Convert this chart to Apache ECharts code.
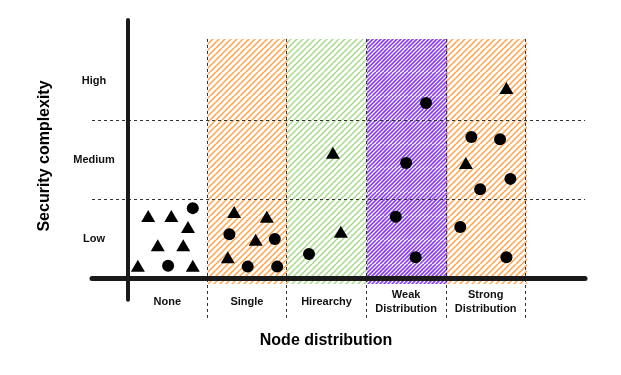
<!DOCTYPE html>
<html>
<head>
<meta charset="utf-8">
<script src="https://cdn.jsdelivr.net/npm/echarts@6/dist/echarts.min.js"></script>
<style>
  html, body { margin: 0; padding: 0; background: #fff; }
  #chart { width: 621px; height: 375px; }
</style>
</head>
<body>
<div id="chart"></div>
<script>
// categories
const nodeLabels = ['None', 'Single', 'Hirearchy', 'Weak\nDistribution', 'Strong\nDistribution']
const levelLabels = ['Low', 'Medium', 'High']

// hatched columns (column index) and which hatch they get
const shadedCols = [1, 2, 3, 4]
const shadeKinds = ['orange', 'green', 'purple', 'orange']

// points: [node position, complexity]
const circlePts = [
  [0.82, 0.89], [0.51, 0.16],
  [1.28, 0.56], [1.85, 0.50], [1.51, 0.15], [1.88, 0.15],
  [2.28, 0.31],
  [3.75, 2.22], [3.50, 1.46], [3.37, 0.78], [3.62, 0.27],
  [4.32, 1.79], [4.68, 1.76], [4.81, 1.26], [4.43, 1.13], [4.18, 0.65], [4.76, 0.27]
]
const trianglePts = [
  [0.26, 0.79], [0.55, 0.79], [0.76, 0.65], [0.38, 0.42], [0.70, 0.42], [0.13, 0.16], [0.82, 0.16],
  [1.34, 0.84], [1.75, 0.78], [1.61, 0.49], [1.26, 0.27],
  [2.58, 1.59], [2.68, 0.59],
  [4.76, 2.41], [4.25, 1.46]
]

const chart = echarts.init(document.getElementById('chart'))

// sketchy hatch tiles, drawn once and repeated (opaque strokes so tile seams don't show)
const hatchColors = { orange: '#ffa24a', green: '#a3d887', purple: '#8a3cf2' }
function makeHatch(color, width, step) {
  const c = document.createElement('canvas')
  c.width = 24; c.height = 24
  const ctx = c.getContext('2d')
  ctx.strokeStyle = color
  ctx.lineWidth = width
  for (let k = -24; k <= 48; k += step) {
    ctx.beginPath()
    ctx.moveTo(k, 24)
    ctx.lineTo(k + 24, 0)
    ctx.stroke()
  }
  return c
}
const hatches = {
  orange: makeHatch(hatchColors.orange, 1.5, 6),
  green: makeHatch(hatchColors.green, 1.4, 6),
  purple: makeHatch(hatchColors.purple, 1.6, 4)
}

const X_MIN = -0.446, X_MAX = 5.747
const Y_MIN = -0.5, Y_MAX = 3.27
const FONT = '"Liberation Sans", Arial, sans-serif'

const option = {
  animation: false,
  grid: { left: 92, right: 36, top: 20, bottom: 57 },
  xAxis: {
    type: 'value',
    min: X_MIN,
    max: X_MAX,
    z: 10,
    axisLine: { onZero: true, lineStyle: { color: '#1a1a1a', width: 5, cap: 'round' } },
    axisTick: { show: false },
    splitLine: { show: false },
    axisLabel: {
      customValues: [0.5, 1.5, 2.5, 3.5, 4.5],
      formatter: v => nodeLabels[Math.floor(v)],
      margin: -16,
      verticalAlign: 'middle',
      lineHeight: 14,
      color: '#111',
      fontSize: 11,
      fontWeight: 'bold',
      fontFamily: FONT
    }
  },
  yAxis: {
    type: 'value',
    min: Y_MIN,
    max: Y_MAX,
    axisLine: { show: false },
    axisTick: { show: false },
    splitLine: { show: false },
    axisLabel: {
      customValues: [0.5, 1.5, 2.5],
      formatter: v => levelLabels[Math.floor(v)],
      margin: -2,
      align: 'center',
      color: '#111',
      fontSize: 11,
      fontWeight: 'bold',
      fontFamily: FONT
    }
  },
  graphic: [
    {
      type: 'text', x: 45, y: 156, rotation: Math.PI / 2,
      style: { text: 'Security complexity', align: 'center', verticalAlign: 'middle',
        font: 'bold 16px ' + FONT, fill: '#000' }
    },
    {
      type: 'text', x: 326, y: 341,
      style: { text: 'Node distribution', align: 'center', verticalAlign: 'middle',
        font: 'bold 16px ' + FONT, fill: '#000' }
    }
  ],
  series: [
    {
      type: 'custom',
      z: 1,
      silent: true,
      data: shadedCols.map((c, i) => [c, c + 1, i]),
      renderItem: function (params, api) {
        const kind = shadeKinds[api.value(2)]
        const p0 = api.coord([api.value(0), 3.03])
        const p1 = api.coord([api.value(1), -0.07])
        return {
          type: 'rect',
          shape: { x: p0[0] + 0.5, y: p0[1], width: p1[0] - p0[0] + 1, height: p1[1] - p0[1] },
          style: { fill: { image: hatches[kind], repeat: 'repeat' } }
        }
      }
    },
    {
      type: 'scatter',
      z: 5,
      silent: true,
      data: [],
      markLine: {
        silent: true,
        symbol: ['none', 'none'],
        label: { show: false },
        lineStyle: { color: '#333', width: 1, type: [3, 3] },
        data: [
          { yAxis: 1 },
          { yAxis: 2 },
          ...[1, 2, 3, 4, 5].map(k => [{ coord: [k, 3.03] }, { coord: [k, Y_MIN] }])
        ]
      }
    },
    {
      type: 'scatter',
      z: 11,
      silent: true,
      data: [],
      markLine: {
        silent: true,
        symbol: ['none', 'none'],
        label: { show: false },
        lineStyle: { color: '#1a1a1a', width: 4, type: 'solid', cap: 'round' },
        data: [[{ coord: [0, -0.27] }, { coord: [0, Y_MAX] }]]
      }
    },
    {
      name: 'circle',
      type: 'scatter',
      z: 20,
      symbol: 'circle',
      symbolSize: 12,
      itemStyle: { color: '#000', opacity: 1 },
      data: circlePts
    },
    {
      name: 'triangle',
      type: 'scatter',
      z: 20,
      symbol: 'triangle',
      symbolSize: [14, 12],
      itemStyle: { color: '#000', opacity: 1 },
      data: trianglePts
    }
  ]
}

chart.setOption(option)
</script>
</body>
</html>
